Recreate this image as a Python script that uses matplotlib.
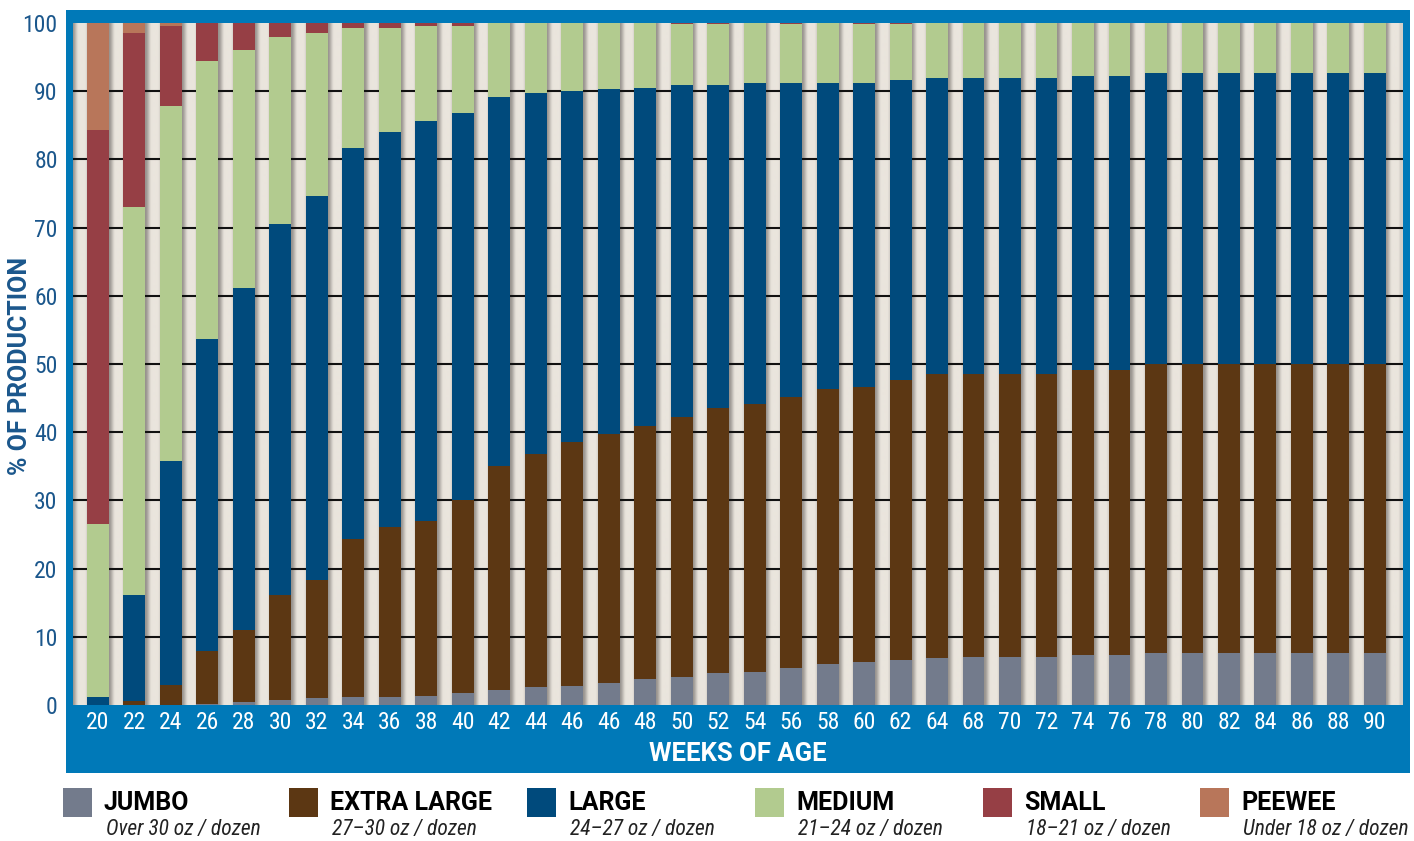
import matplotlib
matplotlib.use('Agg')
import matplotlib.pyplot as plt
import numpy as np
from matplotlib.patches import Rectangle

# ---------------- data ----------------
weeks = ['20', '22', '24', '26', '28', '30', '32', '34', '36', '38', '40', '42',
         '44', '46', '46', '48', '50', '52', '54', '56', '58', '60', '62', '64',
         '68', '70', '72', '74', '76', '78', '80', '82', '84', '86', '88', '90']

jumbo = [0.0, 0.0, 0.0, 0.2, 0.4, 0.7, 1.0, 1.2, 1.2, 1.3, 1.7, 2.2,
         2.6, 2.8, 3.2, 3.8, 4.1, 4.7, 4.8, 5.4, 6.0, 6.3, 6.6, 6.9,
         7.0, 7.0, 7.0, 7.3, 7.3, 7.6, 7.6, 7.6, 7.6, 7.6, 7.6, 7.6]
extra_large = [0.0, 0.6, 2.9, 7.7, 10.6, 15.5, 17.4, 23.1, 24.9, 25.7, 28.3, 32.8,
               34.2, 35.7, 36.5, 37.1, 38.2, 38.9, 39.4, 39.7, 40.4, 40.4, 41.0, 41.6,
               41.5, 41.5, 41.5, 41.8, 41.8, 42.4, 42.4, 42.4, 42.4, 42.4, 42.4, 42.4]
large = [1.2, 15.5, 32.9, 45.7, 50.1, 54.4, 56.2, 57.3, 57.9, 58.6, 56.8, 54.1,
         52.9, 51.5, 50.6, 49.6, 48.6, 47.3, 47.0, 46.1, 44.8, 44.5, 44.0, 43.5,
         43.5, 43.5, 43.5, 43.2, 43.2, 42.6, 42.6, 42.6, 42.6, 42.6, 42.6, 42.6]
medium = [25.4, 56.9, 52.0, 40.8, 35.0, 27.4, 24.0, 17.6, 15.3, 13.9, 12.7, 10.9,
          10.3, 10.0, 9.7, 9.5, 8.9, 8.9, 8.8, 8.6, 8.8, 8.6, 8.2, 8.0,
          8.0, 8.0, 8.0, 7.7, 7.7, 7.4, 7.4, 7.4, 7.4, 7.4, 7.4, 7.4]
small = [57.7, 25.6, 11.7, 5.6, 3.9, 2.0, 1.4, 0.8, 0.7, 0.5, 0.5, 0.0,
         0.0, 0.0, 0.0, 0.0, 0.2, 0.2, 0.0, 0.2, 0.0, 0.2, 0.2, 0.0,
         0.0, 0.0, 0.0, 0.0, 0.0, 0.0, 0.0, 0.0, 0.0, 0.0, 0.0, 0.0]
peewee = [15.7, 1.4, 0.5, 0.0, 0.0, 0.0, 0.0, 0.0, 0.0, 0.0, 0.0, 0.0,
          0.0, 0.0, 0.0, 0.0, 0.0, 0.0, 0.0, 0.0, 0.0, 0.0, 0.0, 0.0,
          0.0, 0.0, 0.0, 0.0, 0.0, 0.0, 0.0, 0.0, 0.0, 0.0, 0.0, 0.0]

series_names = ['JUMBO', 'EXTRA LARGE', 'LARGE', 'MEDIUM', 'SMALL', 'PEEWEE']
series_sub = ['Over 30 oz / dozen', '27\u201330 oz / dozen', '24\u201327 oz / dozen',
              '21\u201324 oz / dozen', '18\u201321 oz / dozen', 'Under 18 oz / dozen']
series_vals = [jumbo, extra_large, large, medium, small, peewee]
series_colors = ['#737b8c', '#5c3713', '#004a7c', '#b2cb8f', '#963f45', '#b8765a']

y_ticks = [0, 10, 20, 30, 40, 50, 60, 70, 80, 90, 100]

# ---------------- style ----------------
BLUE = '#0079b8'
TICK_BLUE = '#1b578c'
COND = ['Roboto Condensed', 'Roboto', 'DejaVu Sans']
WIDE = ['Roboto', 'DejaVu Sans']

W, H = 1414, 841
fig = plt.figure(figsize=(W / 100, H / 100), dpi=100)
fig.patch.set_facecolor('white')

# blue frame
fig.patches.append(Rectangle((66 / W, 1 - 773 / H), (1410 - 66) / W, (773 - 10) / H,
                             transform=fig.transFigure, facecolor=BLUE,
                             edgecolor='none', zorder=-5))

ax = fig.add_axes([73 / W, 1 - 705 / H, (1403 - 73) / W, (705 - 23) / H])

n = len(weeks)
x = np.arange(n)
bw = 0.6
x0, x1 = -0.68, n - 1 + 0.77

# background cylinder-like gradient columns
N = 4000
xs = np.linspace(x0, x1, N)
d = xs - np.floor(xs)
dark = np.array([152, 147, 142]) / 255
light = np.array([234, 229, 221]) / 255
t = np.clip((d - bw / 2) / (1 - bw), 0, 1)
k = np.ones_like(t)
m1 = t < 0.45
s = t[m1] / 0.45
k[m1] = s * s * (3 - 2 * s)
m2 = t > 0.88
k[m2] = 1 - 0.25 * (t[m2] - 0.88) / 0.12
img = dark[None, :] + (light - dark)[None, :] * k[:, None]
ax.imshow(img[None, :, :], extent=[x0, x1, 0, 100], aspect='auto',
          interpolation='bilinear', zorder=0)

# gridlines (visible only between bars)
ax.hlines(y_ticks[1:-1], x0, x1, color='#111111', lw=1.5, zorder=1)

bottom = np.zeros(n)
for vals, col in zip(series_vals, series_colors):
    v = np.array(vals)
    ax.bar(x, v, width=bw, bottom=bottom, color=col, linewidth=0, zorder=3)
    bottom += v

ax.set_xlim(x0, x1)
ax.set_ylim(0, 100)
for sp in ax.spines.values():
    sp.set_visible(False)

ax.set_yticks(y_ticks)
ax.set_yticklabels([str(v) for v in y_ticks], family=COND, fontsize=17, color=TICK_BLUE)
ax.set_xticks(x)
ax.set_xticklabels(weeks, family=COND, fontsize=17, color='white')
ax.tick_params(axis='both', length=0)
ax.tick_params(axis='y', pad=11)
ax.tick_params(axis='x', pad=4)

fig.text(738 / W, 1 - 754 / H, 'WEEKS OF AGE', family=WIDE, fontweight='bold',
         fontsize=18.5, color='white', ha='center', va='center')
fig.text(20 / W, 1 - 366 / H, '% OF PRODUCTION', family=WIDE, fontweight='bold',
         fontsize=18, color=TICK_BLUE, ha='center', va='center', rotation=90)

# legend
sq_x = [63, 289, 527, 755, 983, 1200]
for sx, name, sub, col in zip(sq_x, series_names, series_sub, series_colors):
    fig.patches.append(Rectangle((sx / W, 1 - 817 / H), 29 / W, 29 / H,
                                 transform=fig.transFigure, facecolor=col,
                                 edgecolor='none'))
    fig.text((sx + 41) / W, 1 - 803 / H, name, family=WIDE, fontweight='bold',
             fontsize=18, color='black', ha='left', va='center')
    fig.text((sx + 43) / W, 1 - 830 / H, sub, family=COND, fontstyle='italic',
             fontsize=15.5, color='#222222', ha='left', va='center')

fig.savefig('out.png', dpi=100)
